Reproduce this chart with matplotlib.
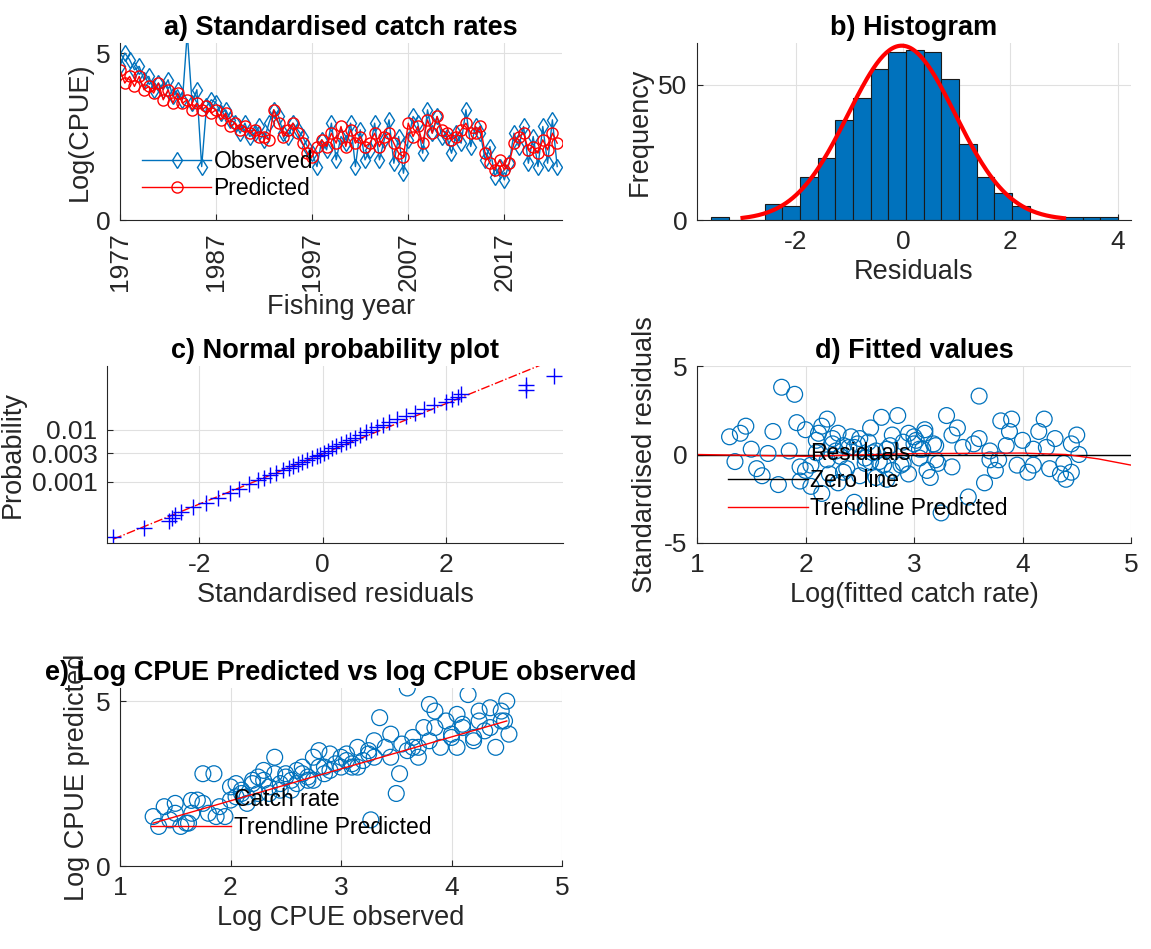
import numpy as np
import matplotlib.pyplot as plt
from statistics import NormalDist

plt.rcParams['font.family'] = ['Liberation Sans', 'DejaVu Sans']
plt.rcParams['axes.unicode_minus'] = False

# a) standardised catch rates (two readings per fishing year)
years = np.arange(1977, 2023, 0.5)
observed = [4.6, 5.0, 4.8, 4.5, 4.6, 4.2, 4.3, 3.9, 4.1, 3.9, 4.2, 3.7, 3.9, 3.6, 5.6, 3.5,
            3.9, 1.6, 3.4, 3.6, 3.5, 3.2, 3.3, 3.0, 2.9, 2.6, 2.9, 2.5, 2.6, 2.8, 2.4, 2.9,
            3.3, 3.1, 2.6, 2.5, 2.9, 2.7, 2.5, 2.2, 2.0, 1.6, 2.4, 2.1, 2.9, 1.8, 2.5, 2.3,
            2.9, 1.6, 2.7, 1.8, 2.1, 2.9, 1.8, 2.4, 3.0, 1.7, 2.5, 1.4, 2.4, 3.1, 2.9, 2.0,
            3.3, 2.6, 3.1, 2.5, 2.5, 2.0, 2.6, 2.3, 3.3, 2.2, 2.8, 2.6, 1.8, 2.2, 1.3, 1.6,
            1.2, 1.7, 2.6, 2.2, 2.8, 1.7, 2.5, 1.6, 2.8, 1.7, 3.0, 1.6]
predicted = [4.5, 4.1, 4.3, 4.0, 4.3, 3.9, 4.0, 3.8, 4.1, 3.6, 3.9, 3.5, 3.8, 3.5, 3.6, 3.3,
             3.5, 3.3, 3.4, 3.2, 3.3, 3.0, 3.2, 2.8, 2.9, 2.7, 2.8, 2.6, 2.7, 2.5, 2.5, 2.4,
             3.3, 2.9, 2.5, 2.7, 2.9, 2.6, 2.3, 2.0, 1.9, 2.2, 2.4, 2.2, 2.6, 2.3, 2.8, 2.2,
             2.7, 2.3, 2.5, 2.2, 2.3, 2.6, 2.2, 2.5, 2.6, 2.3, 2.0, 1.9, 2.9, 2.5, 2.8, 2.3,
             3.0, 2.6, 3.1, 2.7, 2.6, 2.4, 2.5, 2.7, 2.9, 2.6, 2.6, 2.8, 2.0, 1.7, 1.5, 1.8,
             1.5, 1.7, 2.3, 2.5, 2.6, 2.1, 2.2, 2.0, 2.4, 2.1, 2.6, 2.3]

# b) histogram of residuals
bin_edges = np.round(np.arange(-3.58, 4.05, 0.33), 2)
bin_counts = [1, 0, 0, 6, 5, 16, 23, 37, 45, 56, 62, 63, 62, 52, 28, 16, 10, 5, 0, 0, 1, 1, 1]
fit_mu, fit_sigma, fit_n = -0.03, 1.0, 490

# c) normal probability plot (residual, normal quantile)
prob_resid = [-3.4, -2.9, -2.5, -2.45, -2.4, -2.3, -2.1, -1.9, -1.7, -1.5, -1.35, -1.2, -1.05,
              -0.95, -0.85, -0.75, -0.65, -0.55, -0.48, -0.4, -0.33, -0.25, -0.18, -0.1, -0.04,
              0.02, 0.08, 0.15, 0.22, 0.3, 0.38, 0.45, 0.52, 0.6, 0.7, 0.78, 0.88, 0.98, 1.08,
              1.2, 1.35, 1.5, 1.65, 1.8, 2.0, 2.1, 2.2, 2.25, 3.3, 3.3, 3.75]
prob_q = [-3.25, -2.9, -2.65, -2.5, -2.4, -2.28, -2.1, -1.92, -1.72, -1.52, -1.37, -1.2, -1.03,
          -0.93, -0.83, -0.74, -0.64, -0.54, -0.47, -0.39, -0.32, -0.24, -0.17, -0.09, -0.03,
          0.03, 0.12, 0.22, 0.3, 0.37, 0.45, 0.55, 0.62, 0.75, 0.85, 0.95, 1.05, 1.15, 1.25,
          1.37, 1.5, 1.62, 1.75, 1.9, 2.05, 2.15, 2.25, 2.35, 2.5, 2.7, 3.07]
prob_ticks = [-1.1, 0.02, 0.94]
prob_labels = ['0.001', '0.003', '0.01']

# d) fitted values vs standardised residuals
fit_x = [1.3, 1.35, 1.4, 1.45, 1.5, 1.55, 1.6, 1.7, 1.75, 1.78, 1.85, 1.9, 1.92, 1.95, 2.0,
         2.05, 2.1, 2.15, 2.2, 2.2, 2.25, 2.3, 2.35, 2.4, 2.45, 2.5, 2.55, 2.6, 2.65, 2.7,
         2.75, 2.8, 2.85, 2.9, 2.95, 3.0, 3.05, 3.1, 3.15, 3.2, 3.25, 3.3, 3.35, 3.4, 3.5,
         3.55, 3.6, 3.65, 3.7, 3.75, 3.8, 3.85, 3.9, 3.95, 4.0, 4.05, 4.1, 4.15, 4.2, 4.25,
         4.3, 4.35, 4.4, 4.45, 4.5, 4.52, 2.0, 2.1, 2.3, 2.45, 2.6, 2.8, 3.0, 3.2, 2.25, 2.5,
         2.65, 2.9, 3.1, 3.45, 1.95, 2.15, 2.35, 2.55, 2.75, 3.05, 3.35, 3.7, 4.1, 4.45,
         2.05, 2.12, 2.28, 2.38, 2.42, 2.58, 2.68, 2.78, 2.88, 3.02, 3.08, 3.12, 3.18, 2.22,
         2.32, 2.48, 2.62, 2.72, 2.95, 3.22, 3.6, 3.78, 3.88, 4.22, 4.38]
fit_res = [1.0, -0.4, 1.2, 1.6, 0.3, -0.8, -1.2, 1.3, -1.7, 3.8, 0.2, 3.4, 1.8, -1.5, 1.4,
           -0.6, 0.8, -2.2, 2.0, -0.3, 0.6, 1.2, -1.0, 0.4, -2.7, 0.9, -0.5, 1.5, -1.3, 2.1,
           0.3, -0.9, 2.2, 0.7, -1.1, 1.0, -0.2, 1.2, -1.3, 0.5, -3.3, 2.2, -0.7, 1.5, -2.4,
           0.6, 3.3, -1.6, 0.2, -0.9, 1.9, 0.5, 2.0, -0.6, 0.8, -1.0, 0.3, 1.3, 2.0, -0.8,
           0.9, -1.1, -1.4, 0.6, 1.1, 0.0, -0.9, 0.1, -1.6, 0.4, -0.4, 1.1, 0.6, -0.3, 0.9,
           -1.2, 0.2, -0.5, 1.4, 0.4, -0.7, 1.6, 0.5, -0.2, -1.4, 0.3, 1.1, -0.3, -0.6, -1.0,
           -1.8, 1.2, 0.2, -0.8, 1.0, 0.7, -0.4, 0.5, -0.6, 0.8, 0.3, -0.9, 0.6, -1.1,
           -0.1, 0.6, 0.1, -0.6, 1.2, -0.5, 0.9, -0.3, 1.3, 0.4, -0.5]
trend_d_x = [1.0, 2.0, 3.0, 4.0, 4.4, 4.7, 5.0]
trend_d_y = [0.0, -0.1, 0.05, 0.08, 0.0, -0.25, -0.6]

# e) predicted vs observed
obs_x = [1.3, 1.35, 1.4, 1.45, 1.5, 1.55, 1.6, 1.65, 1.7, 1.75, 1.8, 1.85, 1.9, 1.95, 2.0,
         2.05, 2.1, 2.15, 2.2, 2.25, 2.3, 2.35, 2.4, 2.45, 2.5, 2.55, 2.6, 2.65, 2.7, 2.75,
         2.8, 2.85, 2.9, 2.95, 3.0, 3.05, 3.1, 3.15, 3.2, 3.25, 3.3, 3.35, 3.4, 3.45, 3.5,
         3.55, 3.6, 3.65, 3.7, 3.75, 3.8, 3.85, 3.9, 3.95, 4.0, 4.05, 4.1, 4.15, 4.2, 4.25,
         4.3, 4.35, 4.4, 4.45, 4.5, 4.52, 1.75, 1.87, 2.1, 2.3, 2.5, 2.7, 2.9, 3.1, 3.27, 3.53,
         3.6, 3.8, 4.1, 4.2, 4.48, 2.0, 2.2, 2.4, 2.6, 2.8, 3.0, 3.3, 3.7, 4.0,
         2.05, 2.15, 2.25, 2.35, 2.45, 2.55, 2.65, 2.75, 2.85, 3.05, 3.15, 3.25, 3.45, 3.65,
         3.85, 4.05, 4.25, 4.35, 4.45, 1.5, 1.62]
obs_y = [1.5, 1.2, 1.8, 1.4, 1.9, 1.2, 1.3, 1.6, 2.0, 2.8, 1.6, 2.8, 1.8, 1.5, 2.4, 2.1, 2.3,
         1.9, 2.5, 2.2, 2.6, 2.4, 2.8, 2.3, 2.7, 2.6, 2.5, 3.0, 2.7, 3.3, 3.0, 2.8, 2.9, 3.1,
         3.3, 3.4, 3.1, 3.6, 3.2, 3.5, 3.3, 4.5, 3.6, 4.0, 2.2, 3.7, 5.4, 3.9, 3.3, 4.2, 3.8,
         4.7, 3.6, 4.4, 4.0, 3.6, 4.3, 5.2, 3.9, 4.7, 4.1, 4.8, 3.6, 4.4, 5.0, 4.0, 1.9, 1.5,
         2.2, 2.9, 2.8, 2.6, 3.4, 3.0, 1.4, 2.8, 3.5, 4.9, 4.2, 3.8, 4.4, 2.0, 2.6, 3.3, 2.9,
         3.5, 3.0, 3.8, 3.6, 3.9,
         2.5, 2.1, 2.7, 2.2, 2.5, 2.3, 2.8, 2.6, 3.0, 3.2, 3.0, 3.4, 3.3, 3.6,
         4.2, 4.6, 4.4, 4.2, 4.7, 1.6, 1.3]
trend_e_x = [1.3, 4.5]
trend_e_y = [1.3, 4.4]

fig = plt.figure(figsize=(11.51, 9.49), dpi=100)
W, H = 1151, 949

def make_ax(l, r, t, b):
    ax = fig.add_axes([l / W, 1 - b / H, (r - l) / W, (b - t) / H])
    ax.grid(True, color='#e0e0e0', lw=0.8)
    ax.set_axisbelow(True)
    for s in ['top', 'right']:
        ax.spines[s].set_visible(False)
    for s in ['left', 'bottom']:
        ax.spines[s].set_color('#262626')
    ax.tick_params(labelsize=19, colors='#262626', direction='in', length=4, pad=7)
    return ax

tfont = dict(fontsize=19.5, fontweight='bold', pad=6)
lfont = dict(fontsize=19.5, color='#262626')

# a
ax = make_ax(120, 562, 43, 220)
ax.plot(years, observed, '-d', color='#0072BD', mfc='none', ms=8, lw=1, label='Observed')
ax.plot(years, predicted, '-o', color='red', mfc='none', ms=8, lw=1, label='Predicted')
ax.set_xlim(1977, 2023)
ax.set_ylim(0, 5.3)
ax.set_xticks([1977, 1987, 1997, 2007, 2017])
ax.set_yticks([0, 5])
ax.tick_params(axis='x', rotation=90, pad=9)
ax.set_title('a) Standardised catch rates', **tfont)
ax.set_xlabel('Fishing year', labelpad=2, **lfont)
ax.set_ylabel('Log(CPUE)', labelpad=2, **lfont)
ax.legend(frameon=False, fontsize=16.5, loc='lower left', bbox_to_anchor=(0.03, 0.06),
          handlelength=3, handletextpad=0.1, borderaxespad=0, labelspacing=0.2)

# b
ax = make_ax(697, 1131, 43, 220)
ax.bar(bin_edges[:-1], bin_counts, width=np.diff(bin_edges), align='edge',
       facecolor='#0072BD', edgecolor='#1a1a1a', lw=0.8)
xs = np.linspace(-3, 3, 200)
pdf = np.array([NormalDist(fit_mu, fit_sigma).pdf(v) for v in xs])
ax.plot(xs, pdf * fit_n * 0.33, color='red', lw=3)
ax.set_xlim(-3.85, 4.25)
ax.set_ylim(0, 65.5)
ax.set_xticks([-2, 0, 2, 4])
ax.set_yticks([0, 50])
ax.set_title('b) Histogram', **tfont)
ax.set_xlabel('Residuals', **lfont)
ax.set_ylabel('Frequency', **lfont)

# c
ax = make_ax(107, 563, 366, 543)
ax.plot([-3.4, 3.55], [-3.35, 3.5], color='red', ls='-.', lw=1)
ax.plot(prob_resid, prob_q, '+', color='blue', ms=11, mew=1)
ax.set_xlim(-3.5, 3.9)
ax.set_ylim(-3.5, 3.45)
ax.set_xticks([-2, 0, 2])
ax.set_yticks(prob_ticks)
ax.set_yticklabels(prob_labels)
ax.set_title('c) Normal probability plot', **tfont)
ax.set_xlabel('Standardised residuals', **lfont)
ax.set_ylabel('Probability', **lfont)

# d
ax = make_ax(697, 1131, 366, 543)
ax.scatter(fit_x, fit_res, s=130, facecolors='none', edgecolors='#0072BD', lw=0.9, label='Residuals')
ax.axhline(0, color='black', lw=1, label='Zero line')
ax.plot(trend_d_x, trend_d_y, color='red', lw=1, label='Trendline Predicted')
ax.set_xlim(1, 5)
ax.set_ylim(-5, 5)
ax.set_xticks([1, 2, 3, 4, 5])
ax.set_yticks([-5, 0, 5])
ax.set_title('d) Fitted values', **tfont)
ax.set_xlabel('Log(fitted catch rate)', **lfont)
ax.set_ylabel('Standardised residuals', **lfont)
ax.legend(frameon=False, fontsize=16.5, loc='lower left', bbox_to_anchor=(0.05, 0.08),
          handlelength=3.5, handletextpad=0.1, borderaxespad=0, labelspacing=0.2)

# e
ax = make_ax(120, 562, 688, 866)
ax.scatter(obs_x, obs_y, s=130, facecolors='none', edgecolors='#0072BD', lw=0.9, label='Catch rate')
ax.plot(trend_e_x, trend_e_y, color='red', lw=1, label='Trendline Predicted')
ax.set_xlim(1, 5)
ax.set_ylim(0, 5.4)
ax.set_xticks([1, 2, 3, 4, 5])
ax.set_yticks([0, 5])
ax.set_title('e) Log CPUE Predicted vs log CPUE observed', **tfont)
ax.set_xlabel('Log CPUE observed', **lfont)
ax.set_ylabel('Log CPUE predicted', **lfont)
ax.legend(frameon=False, fontsize=16.5, loc='lower left', bbox_to_anchor=(0.05, 0.1),
          handlelength=3.5, handletextpad=0.1, borderaxespad=0, labelspacing=0.2)

fig.savefig('out.png', dpi=100)
